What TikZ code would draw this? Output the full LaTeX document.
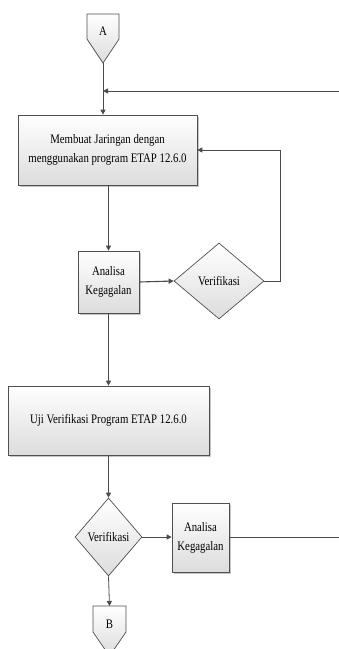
\documentclass[tikz,border=0pt]{standalone}
\usepackage{fontspec}
\setmainfont{Liberation Serif}[FakeStretch=0.83]
\usetikzlibrary{shapes.geometric,shadows,arrows.meta}
\definecolor{lncol}{HTML}{4A4A4A}
\definecolor{boxcol}{HTML}{505050}
\definecolor{fillcol}{HTML}{DCDCDC}
\begin{document}
\begin{tikzpicture}[x=1pt,y=-1pt,
  ln/.style={draw=lncol, line width=0.8pt},
  arr/.style={ln, -{Triangle[length=5pt,width=5pt]}},
  txt/.style={font=\fontsize{13}{19}\selectfont, align=center},
  procbox/.style={rectangle, draw=boxcol, line width=0.7pt, top color=white, bottom color=fillcol,
    drop shadow={shadow xshift=1.5pt, shadow yshift=-1.5pt, fill=gray, opacity=0.45},
    inner sep=0pt, txt},
  decide/.style={diamond, draw=boxcol, line width=0.7pt, top color=white, bottom color=fillcol,
    inner sep=0pt, txt},
  offpage/.style={draw=boxcol, line width=0.7pt, top color=white, bottom color=fillcol}
]
\clip (0,0) rectangle (339,649);
\fill[white] (0,0) rectangle (339,649);

% off-page connector A
\path[offpage] (87,14) -- (119,14) -- (119,39) -- (103,63) -- (87,39) -- cycle;
\node[txt] (A) at (103,31) {A};
\coordinate (Atip) at (103,63);
\coordinate (J) at (103,91);
\coordinate (Rin) at (339,91);

% boxes
\node[procbox, minimum width=179pt, minimum height=70pt] (b1) at (107.5,150)
  {Membuat Jaringan dengan\\menggunakan program ETAP 12.6.0};
\node[procbox, minimum width=61pt, minimum height=62pt] (an1) at (108.5,282) {Analisa\\Kegagalan};
\node[decide, minimum width=90pt, minimum height=76pt] (v1) at (219,281) {Verifikasi};
\node[procbox, minimum width=201pt, minimum height=69pt] (uji) at (108.5,420.5)
  {Uji Verifikasi Program ETAP 12.6.0};
\node[decide, minimum width=67pt, minimum height=78pt] (v2) at (108.5,537) {Verifikasi};
\node[procbox, minimum width=57pt, minimum height=69pt] (an2) at (200.5,537.5) {Analisa\\Kegagalan};
\coordinate (Rout) at (339,537.5);

% off-page connector B
\path[offpage] (93,606) -- (126,606) -- (126,632) -- (109.5,656) -- (93,632) -- cycle;
\node[txt] (B) at (109.5,624) {B};
\coordinate (Btop) at (109.5,606);

% connectors
\draw[ln] (Atip) -- (J);
\draw[arr] (Rin) -- (J);
\draw[arr] (J) -- (J |- b1.north);
\draw[arr] (b1.south -| an1.north) -- (an1.north);
\draw[arr, line width=1.1pt] (an1.east) -- (v1.west);
\draw[arr] (v1.east) -- (280,281) -- (280,150) -- (b1.east);
\draw[arr] (an1.south) -- (an1.south |- uji.north);
\draw[arr] (uji.south -| v2.north) -- (v2.north);
\draw[arr] (v2.east) -- (an2.west |- v2.east);
\draw[ln] (an2.east) -- (Rout);
\draw[arr] (v2.south) -- (Btop);
\end{tikzpicture}
\end{document}
